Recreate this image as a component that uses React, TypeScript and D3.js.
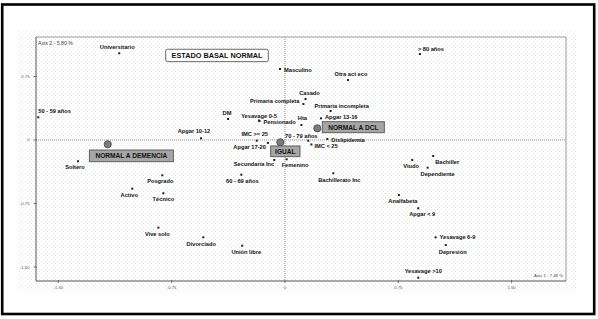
import React from "react";
import * as d3 from "d3";

// ---- data ----
const categories = [
  "Universitario", "> 80 años", "Masculino", "Otra act eco", "Casado",
  "Primaria completa", "Primaria incompleta", "DM", "Yesavage 0-5", "Pensionado",
  "Hta", "Apgar 13-16", "Apgar 10-12", "IMC >= 25", "Apgar 17-20",
  "70 - 79 años", "Dislipidemia", "IMC < 25", "Secundaria Inc", "Femenino",
  "60 - 69 años", "Bachillerato Inc", "50 - 59 años", "Soltero", "Posgrado",
  "Activo", "Técnico", "Vive solo", "Divorciado", "Unión libre",
  "Bachiller", "Viudo", "Dependiente", "Analfabeta", "Apgar < 9",
  "Yesavage 6-9", "Depresión", "Yesavage >10",
];
const axis1Values = [
  -1.097, 0.893, -0.033, 0.417, 0.136,
  0.122, 0.302, -0.377, -0.172, -0.169,
  0.109, 0.238, -0.556, -0.187, -0.113,
  0.154, 0.28, 0.175, -0.071, 0.011,
  -0.289, 0.32, -1.633, -1.37, -0.812,
  -1.011, -0.805, -0.838, -0.541, -0.283,
  0.981, 0.842, 0.944, 0.754, 0.882,
  0.997, 1.064, 0.882,
];
const axis2Values = [
  1.024, 1.015, 0.838, 0.708, 0.484,
  0.425, 0.342, 0.248, 0.23, 0.224,
  0.177, 0.256, 0.02, -0.008, -0.035,
  -0.008, 0.012, -0.053, -0.236, -0.228,
  -0.41, -0.393, 0.268, -0.251, -0.417,
  -0.575, -0.629, -1.035, -1.149, -1.248,
  -0.189, -0.236, -0.327, -0.649, -0.806,
  -1.149, -1.24, -1.626,
];

const groupNames = ["ESTADO BASAL NORMAL", "NORMAL A DEMENCIA", "IGUAL", "NORMAL A DCL"];
const groupAxis1 = [-0.45, -1.173, -0.031, 0.214];
const groupAxis2 = [0.998, -0.051, -0.027, 0.138];

const xTickValues = [-1.5, -0.75, 0, 0.75, 1.5];
const xTickLabels = ["-1.50", "-0.75", "0", "0.75", "1.50"];
const yTickValues = [-1.5, -0.75, 0, 0.75];
const yTickLabels = ["-1.50", "-0.75", "0", "0.75"];
const axis1Title = "Axis 1 - 7.48 %";
const axis2Title = "Axis 2 - 5.80 %";

// ---- label placement (style) ----
const labelPlacement: [string, number, number][] = [
  ["middle", -2, -4], ["start", -2, -3], ["start", 4, 2.5], ["middle", 3, -4], ["middle", 4, -4],
  ["end", -4, -1], ["middle", 11, -3], ["middle", -1, -4], ["middle", 0, -3], ["start", 4, 3],
  ["middle", 1, -5], ["start", 4, 1], ["middle", -7, -5], ["middle", -2, -5], ["end", -2, 6],
  ["middle", -7, -3], ["start", 4, 3], ["start", 3, 4], ["end", 0, 6], ["start", -5, 8],
  ["middle", 1, 8], ["middle", 6, 9], ["start", 0, -4], ["middle", -3, 8], ["middle", -2, 8],
  ["middle", -3, 8], ["middle", 0, 8], ["middle", -1, 8], ["middle", -2, 8.5], ["middle", 4, 8.5],
  ["start", 2, 8], ["middle", -1, 8], ["middle", 10, 8.5], ["middle", 4, 8.5], ["middle", 4, 8],
  ["start", 4, 2], ["middle", 7, 9], ["middle", 5, -5],
];
// group box: [dx, dy, w, h, white?, showDot]
const groupBox: [number, number, number, number, boolean, boolean][] = [
  [-51.3, -6.2, 102.6, 12.4, true, false],
  [-18.4, 5.7, 84, 11.7, false, true],
  [-9.6, 3.7, 29.3, 10.7, false, true],
  [5, -6.6, 62, 11, false, true],
];

const W = 598, H = 319;
const L = 36, R = 566, T = 37, B = 281;
const FONT = "'Liberation Sans', Arial, Helvetica, sans-serif";

export default function App() {
  const x = d3.scaleLinear().domain([-1.648, 1.86]).range([L, R]);
  const y = d3.scaleLinear().domain([-1.665, 1.216]).range([B, T]);

  return (
    <svg width={W} height={H} style={{ position: "absolute", left: 0, top: 0, background: "#fff" }}>
      <defs>
        <pattern id="dots" width="4" height="4" patternUnits="userSpaceOnUse">
          <rect x="1" y="1" width="0.8" height="0.8" fill="#d6d6d6" />
          <rect x="3" y="3" width="0.8" height="0.8" fill="#e2e2e2" />
        </pattern>
      </defs>
      <rect x={0} y={0} width={W} height={H} fill="#fff" />
      <rect x={2.2} y={4.5} width={592} height={309.5} fill="none" stroke="#000" strokeWidth={2.6} />
      {/* textured background */}
      <rect x={19} y={31} width={558} height={261} fill="url(#dots)" />
      {/* plot frame */}
      <line x1={L} x2={R} y1={T} y2={T} stroke="#9a9a9a" strokeWidth={1} />
      <line x1={R} x2={R} y1={T} y2={B} stroke="#9a9a9a" strokeWidth={1} />
      <line x1={L} x2={L} y1={T} y2={B} stroke="#555" strokeWidth={1} />
      <line x1={L} x2={R} y1={B} y2={B} stroke="#555" strokeWidth={1} />
      {/* zero lines */}
      <line x1={x(0)} x2={x(0)} y1={T} y2={B} stroke="#777" strokeWidth={0.8} strokeDasharray="1,1" />
      <line x1={L} x2={R} y1={y(0)} y2={y(0)} stroke="#777" strokeWidth={0.8} strokeDasharray="1,1" />
      <g opacity={0.999}>
        {/* ticks */}
        {xTickValues.map((v, i) => (
          <g key={"xt" + i}>
            <line x1={x(v)} x2={x(v)} y1={B - 1} y2={B + 2} stroke="#555" strokeWidth={0.8} />
            <text x={x(v)} y={B + 7.5} fontSize={4.2} fill="#555" textAnchor="middle" fontFamily={FONT}>{xTickLabels[i]}</text>
          </g>
        ))}
        {yTickValues.map((v, i) => (
          <g key={"yt" + i}>
            <line x1={L - 2.5} x2={L + 1} y1={y(v)} y2={y(v)} stroke="#555" strokeWidth={0.8} />
            <text x={L - 6.5} y={y(v) + 1.5} fontSize={4.2} fill="#555" textAnchor="end" fontFamily={FONT}>{yTickLabels[i]}</text>
          </g>
        ))}
        <text x={L + 2} y={44.5} fontSize={5.2} fill="#444" fontFamily={FONT}>{axis2Title}</text>
        <text x={R - 3} y={277} fontSize={4.3} fill="#444" textAnchor="end" fontFamily={FONT}>{axis1Title}</text>

        {/* points */}
        {categories.map((c, i) => {
          const px = x(axis1Values[i]);
          const py = y(axis2Values[i]);
          const [anchor, dx, dy] = labelPlacement[i];
          return (
            <g key={c}>
              <rect x={px - 1} y={py - 1} width={2} height={2} fill="#222" />
              <text x={px + dx} y={py + dy} fontSize={5.7} fontWeight="bold" fill="#111"
                textAnchor={anchor as any} fontFamily={FONT}>{c}</text>
            </g>
          );
        })}

        {/* group centroids */}
        {groupNames.map((g, i) => {
          const px = x(groupAxis1[i]);
          const py = y(groupAxis2[i]);
          const [dx, dy, w, h, white, dot] = groupBox[i];
          return (
            <g key={g}>
              {dot && <circle cx={px} cy={py} r={3.6} fill="#7a7a7a" stroke="#444" strokeWidth={0.8} />}
              <rect x={px + dx} y={py + dy} width={w} height={h}
                rx={white ? 2 : 0}
                fill={white ? "#fff" : "#a6a6a6"} stroke="#555" strokeWidth={0.9} />
              <text x={px + dx + w / 2} y={py + dy + h / 2 + (white ? 2.6 : 2.4)} fontSize={white ? 7.3 : 6.6}
                fontWeight="bold" fill="#111" textAnchor="middle" fontFamily={FONT}>{g}</text>
            </g>
          );
        })}
      </g>
    </svg>
  );
}
